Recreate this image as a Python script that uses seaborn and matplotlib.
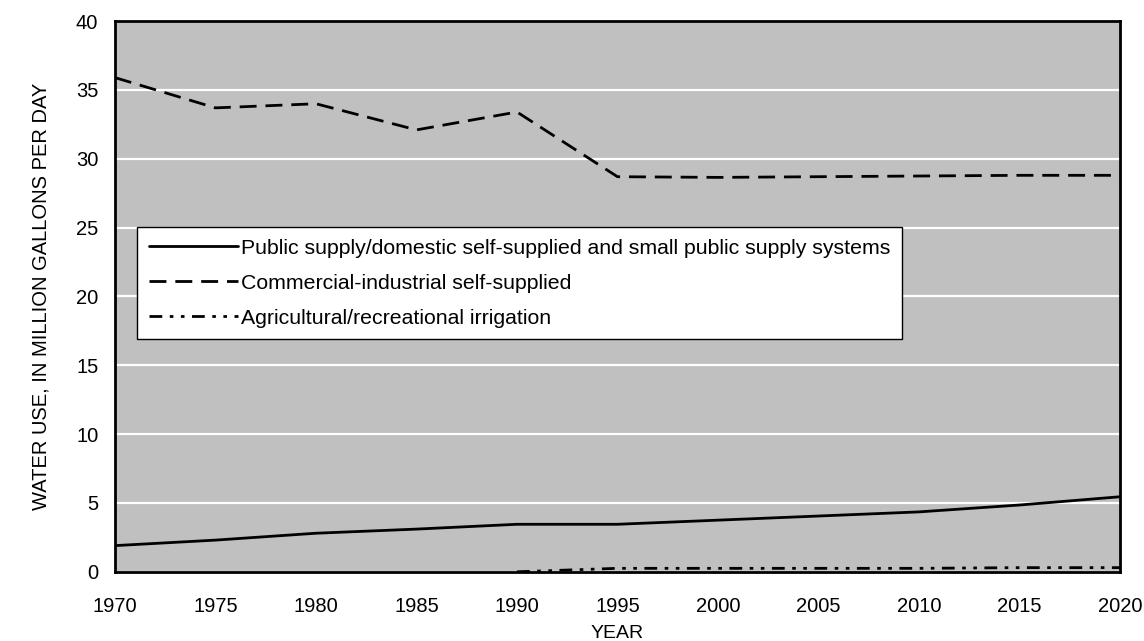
import matplotlib
matplotlib.use("Agg")
import matplotlib.pyplot as plt
import seaborn as sns
import pandas as pd

years = [1970, 1975, 1980, 1985, 1990, 1995, 2000, 2005, 2010, 2015, 2020]
public_supply = [1.9, 2.3, 2.8, 3.1, 3.45, 3.45, 3.75, 4.05, 4.35, 4.85, 5.45]
commercial = [35.9, 33.7, 34.0, 32.1, 33.4, 28.7, 28.65, 28.7, 28.75, 28.8, 28.8]
ag_years = [1990, 1995, 2000, 2005, 2010, 2015, 2020]
agricultural = [0.0, 0.25, 0.25, 0.25, 0.25, 0.3, 0.3]

labels = [
    "Public supply/domestic self-supplied and small public supply systems",
    "Commercial-industrial self-supplied",
    "Agricultural/recreational irrigation",
]

df = pd.concat([
    pd.DataFrame({"Year": years, "Value": public_supply, "Series": labels[0]}),
    pd.DataFrame({"Year": years, "Value": commercial, "Series": labels[1]}),
    pd.DataFrame({"Year": ag_years, "Value": agricultural, "Series": labels[2]}),
])

sns.set_theme(style="white")
plt.rcParams['font.family'] = ['Liberation Sans', 'DejaVu Sans']
plt.rcParams['text.color'] = 'black'
plt.rcParams['axes.labelcolor'] = 'black'

fig, ax = plt.subplots(figsize=(11.44, 6.41), dpi=100)
fig.subplots_adjust(left=0.1005, right=0.979, top=0.967, bottom=0.108)
ax.set_facecolor("#C0C0C0")

dashes = {labels[0]: "", labels[1]: (6.1, 3.2), labels[2]: (4.6, 2.7, 1.3, 2.7, 1.3, 2.7)}
sns.lineplot(data=df, x="Year", y="Value", style="Series", style_order=labels,
             dashes=dashes, color="black", linewidth=2.0, ax=ax, legend=True)

ax.set_xlim(1970, 2020)
ax.set_ylim(0, 40)
ax.set_xticks(range(1970, 2021, 5))
ax.set_yticks(range(0, 41, 5))
ax.yaxis.grid(True, color="white", linewidth=1.6)
ax.set_axisbelow(True)
for s in ax.spines.values():
    s.set_color("black")
    s.set_linewidth(2.0)
ax.tick_params(axis="both", direction="in", width=1.2, colors="black", labelsize=14.5)
ax.tick_params(axis="x", length=6, pad=18)
ax.tick_params(axis="y", length=5, pad=12)
ax.set_xlabel("YEAR", fontsize=14, labelpad=7, color="black")
ax.set_ylabel("WATER USE, IN MILLION GALLONS PER DAY", fontsize=14.5, labelpad=18, color="black")

leg = ax.legend(loc="upper left", bbox_to_anchor=(0.022, 0.626), fontsize=15.3,
                frameon=True, fancybox=False, edgecolor="black", facecolor="white",
                framealpha=1, handlelength=4.2, handletextpad=0.15,
                labelspacing=0.75, borderpad=0.55, borderaxespad=0)
leg.get_frame().set_linewidth(1.0)
for t in leg.get_texts():
    t.set_color("black")

fig.savefig("out.png", dpi=100)
